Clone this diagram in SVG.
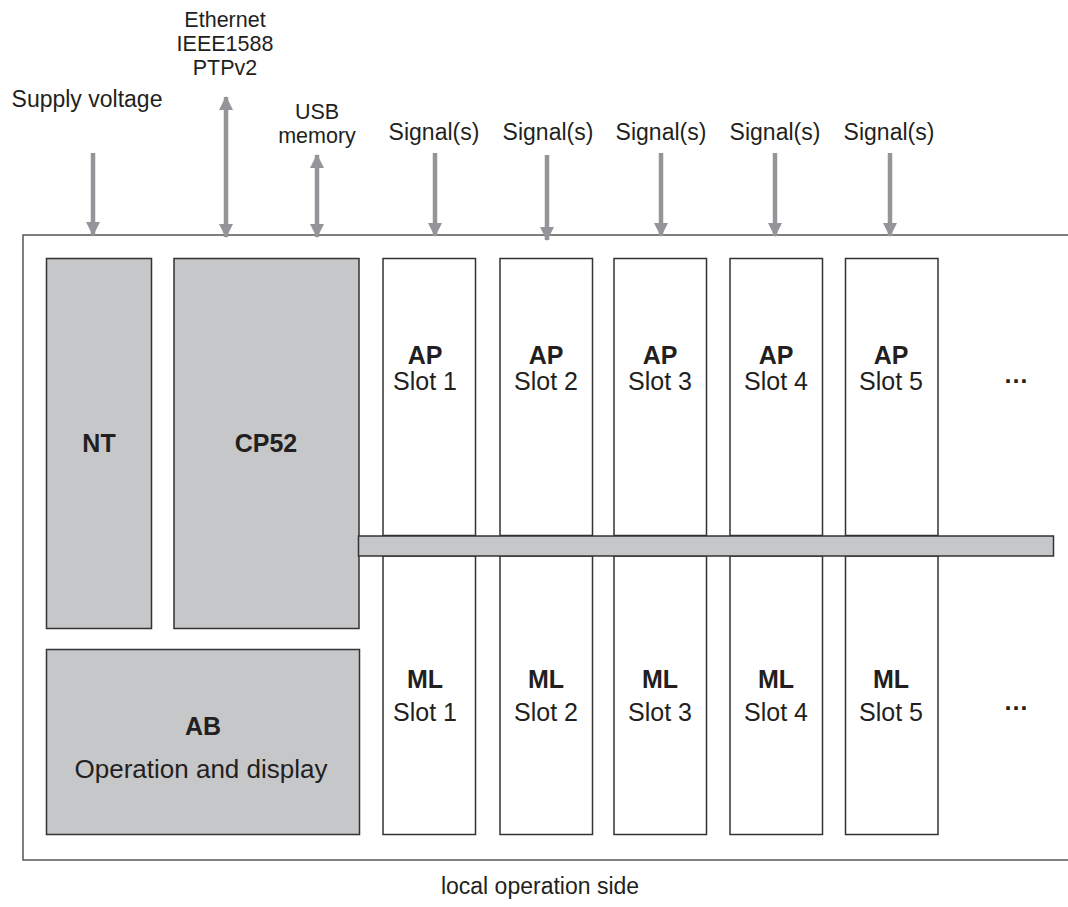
<svg xmlns="http://www.w3.org/2000/svg" width="1068" height="907" viewBox="0 0 1068 907">
<defs>
<marker id="ah" viewBox="0 0 14 14" refX="13" refY="7" markerWidth="14" markerHeight="14" markerUnits="userSpaceOnUse" orient="auto-start-reverse">
<path d="M0,0 L14,7 L0,14 Z" fill="#939598"/>
</marker>
</defs>
<style>
text{font-family:"Liberation Sans",Arial,Helvetica,sans-serif;fill:#231f20;text-anchor:middle}
.lab{font-size:23px}
.st{font-size:21.5px}
.b{font-size:25px;font-weight:bold}
.n{font-size:25px}
.g{fill:#c6c7c9;stroke:#333;stroke-width:1.5}
.w{fill:#fff;stroke:#333;stroke-width:1.5}
.ar{stroke:#939598;stroke-width:4.5;fill:none}
</style>
<rect width="1068" height="907" fill="#fff"/>
<path d="M1068,235 H23 V860 H1068" fill="none" stroke="#555" stroke-width="1.5"/>
<g id="labels">
<text class="st" x="225" y="27">Ethernet</text>
<text class="st" x="225" y="51">IEEE1588</text>
<text class="st" x="225" y="75">PTPv2</text>
<text class="lab" x="87" y="107">Supply voltage</text>
<text class="st" x="317" y="119">USB</text>
<text class="st" x="317" y="143">memory</text>
<text class="lab" x="434" y="140">Signal(s)</text>
<text class="lab" x="548" y="140">Signal(s)</text>
<text class="lab" x="661" y="140">Signal(s)</text>
<text class="lab" x="775" y="140">Signal(s)</text>
<text class="lab" x="889" y="140">Signal(s)</text>
<text class="lab" x="540" y="894">local operation side</text>
</g>
<g id="connectors">
<line class="ar" x1="93" y1="153" x2="93" y2="235" marker-end="url(#ah)"/>
<line class="ar" x1="226" y1="97" x2="226" y2="237" marker-start="url(#ah)" marker-end="url(#ah)"/>
<line class="ar" x1="317" y1="155" x2="317" y2="237" marker-start="url(#ah)" marker-end="url(#ah)"/>
<line class="ar" x1="435" y1="153" x2="435" y2="236" marker-end="url(#ah)"/>
<line class="ar" x1="547" y1="155" x2="547" y2="240" marker-end="url(#ah)"/>
<line class="ar" x1="661" y1="153" x2="661" y2="236" marker-end="url(#ah)"/>
<line class="ar" x1="775" y1="153" x2="775" y2="236" marker-end="url(#ah)"/>
<line class="ar" x1="890" y1="153" x2="890" y2="236" marker-end="url(#ah)"/>
</g>
<g id="NT"><rect class="g" x="46.5" y="258.5" width="105" height="370"/><text class="b" x="99" y="452">NT</text></g>
<g id="CP52"><rect class="g" x="174" y="258.5" width="185" height="370"/><text class="b" x="266" y="452">CP52</text></g>
<g id="AB"><rect class="g" x="46.5" y="649.5" width="313" height="185"/><text class="b" x="203" y="735">AB</text><text style="font-size:26px" x="201" y="778">Operation and display</text></g>
<g id="AP1"><rect class="w" x="383" y="258.5" width="92.5" height="277"/><text class="b" x="425" y="364">AP</text><text class="n" x="425" y="390">Slot 1</text></g>
<g id="AP2"><rect class="w" x="500" y="258.5" width="92.5" height="277"/><text class="b" x="546" y="364">AP</text><text class="n" x="546" y="390">Slot 2</text></g>
<g id="AP3"><rect class="w" x="614" y="258.5" width="92.5" height="277"/><text class="b" x="660" y="364">AP</text><text class="n" x="660" y="390">Slot 3</text></g>
<g id="AP4"><rect class="w" x="730" y="258.5" width="92.5" height="277"/><text class="b" x="776" y="364">AP</text><text class="n" x="776" y="390">Slot 4</text></g>
<g id="AP5"><rect class="w" x="845.5" y="258.5" width="92.5" height="277"/><text class="b" x="891" y="364">AP</text><text class="n" x="891" y="390">Slot 5</text></g>
<g id="ML1"><rect class="w" x="383" y="556" width="92.5" height="278.5"/><text class="b" x="425" y="688">ML</text><text class="n" x="425" y="721">Slot 1</text></g>
<g id="ML2"><rect class="w" x="500" y="556" width="92.5" height="278.5"/><text class="b" x="546" y="688">ML</text><text class="n" x="546" y="721">Slot 2</text></g>
<g id="ML3"><rect class="w" x="614" y="556" width="92.5" height="278.5"/><text class="b" x="660" y="688">ML</text><text class="n" x="660" y="721">Slot 3</text></g>
<g id="ML4"><rect class="w" x="730" y="556" width="92.5" height="278.5"/><text class="b" x="776" y="688">ML</text><text class="n" x="776" y="721">Slot 4</text></g>
<g id="ML5"><rect class="w" x="845.5" y="556" width="92.5" height="278.5"/><text class="b" x="891" y="688">ML</text><text class="n" x="891" y="721">Slot 5</text></g>
<g id="bus"><rect class="g" x="358.5" y="536" width="695" height="20"/></g>
<g id="more"><text class="b" x="1016" y="383">…</text><text class="b" x="1016" y="710">…</text></g>
</svg>
